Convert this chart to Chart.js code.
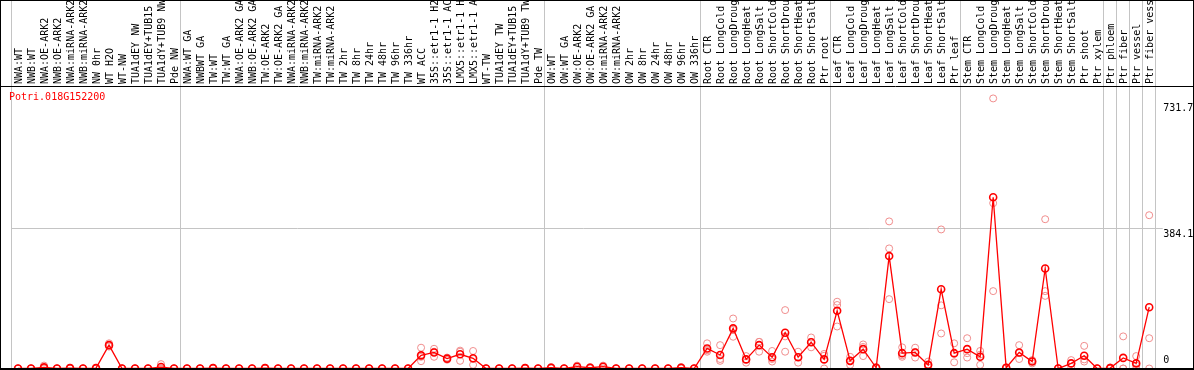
<!DOCTYPE html>
<html>
<head>
<meta charset="utf-8">
<script src="https://cdn.jsdelivr.net/npm/chart.js@4.4.1/dist/chart.umd.min.js"></script>
<style>
html,body{margin:0;padding:0;background:#fff;}
#wrap{position:relative;width:1194px;height:370px;}
canvas{display:block;}
</style>
</head>
<body>
<div id="wrap"><canvas id="c" width="1194" height="370"></canvas></div>
<script>
// ---- data ----
const geneName = 'Potri.018G152200';
const groupSizes = [13, 28, 12, 10, 10, 11, 1, 1, 1, 1];
const categories = [
  'NWA:WT','NWB:WT','NWA:OE-ARK2','NWB:OE-ARK2','NWA:miRNA-ARK2','NWB:miRNA-ARK2','NW 0hr','WT H2O','WT-NW','TUA1dEY NW','TUA1dEY+TUB15','TUA1dY+TUB9 NW','Pde NW',
  'NWA:WT GA','NWBWT GA','TW:WT','TW:WT GA','NWA:OE-ARK2 GA','NWB:OE-ARK2 GA','TW:OE-ARK2','TW:OE-ARK2 GA','NWA:miRNA-ARK2','NWB:miRNA-ARK2','TW:miRNA-ARK2','TW:miRNA-ARK2','TW 2hr','TW 8hr','TW 24hr','TW 48hr','TW 96hr','TW 336hr','WT ACC','35S::etr1-1 H2','35S::etr1-1 AC','LMX5::etr1-1 H','LMX5::etr1-1 A','WT-TW','TUA1dEY TW','TUA1dEY+TUB15','TUA1dY+TUB9 TW','Pde TW',
  'OW:WT','OW:WT GA','OW:OE-ARK2','OW:OE-ARK2 GA','OW:miRNA-ARK2','OW:miRNA-ARK2','OW 2hr','OW 8hr','OW 24hr','OW 48hr','OW 96hr','OW 336hr',
  'Root CTR','Root LongCold','Root LongDroug','Root LongHeat','Root LongSalt','Root ShortCold','Root ShortDrou','Root ShortHeat','Root ShortSalt','Ptr root',
  'Leaf CTR','Leaf LongCold','Leaf LongDroug','Leaf LongHeat','Leaf LongSalt','Leaf ShortCold','Leaf ShortDrou','Leaf ShortHeat','Leaf ShortSalt','Ptr leaf',
  'Stem CTR','Stem LongCold','Stem LongDroug','Stem LongHeat','Stem LongSalt','Stem ShortCold','Stem ShortDrou','Stem ShortHeat','Stem ShortSalt','Ptr shoot','Ptr xylem',
  'Ptr phloem','Ptr fiber','Ptr vessel','Ptr fiber vess'
];
const meanValues = [
  0,0,3,0,1,0,1,64,0,0,0,4,0,
  0,0,1,0,0,0,1,0,0,0,0,0,0,0,0,0,0,0,36,44,27,39,28,0,0,0,1,0,
  2,0,5,2,5,0,0,0,0,0,2,0,
  55,37,110,25,64,31,98,31,72,25,
  158,21,53,2,308,42,44,10,217,42,
  53,32,469,2,44,19,274,0,14,35,0,
  1,29,14,168
];
const rep1 = [
  0,0,8,0,2,0,2,69,0,0,0,12,0,
  0,0,2,0,0,0,2,0,0,0,0,0,0,0,0,0,0,0,57,54,30,49,48,0,0,0,2,0,
  4,0,8,4,8,0,0,0,0,0,4,0,
  69,64,137,34,73,48,160,46,85,40,
  183,32,66,4,403,58,57,19,381,69,
  83,48,740,3,64,23,409,1,23,62,0,
  3,88,34,420
];
const rep2 = [
  0,0,1,0,1,0,1,64,0,0,0,0,0,
  0,0,1,0,0,0,1,0,0,0,0,0,0,0,0,0,0,0,32,46,27,46,26,0,0,0,1,0,
  2,0,5,2,5,0,0,0,0,0,2,0,
  50,26,106,25,73,26,88,31,73,35,
  174,21,59,2,329,36,45,8,173,40,
  42,38,453,2,42,20,212,0,14,25,0,
  0,0,8,83
];
const rep3 = [
  0,0,0,0,0,0,0,60,0,0,0,0,0,
  0,0,0,0,0,0,0,0,0,0,0,0,0,0,0,0,0,0,20,32,24,21,10,0,0,0,0,0,
  0,0,0,0,0,0,0,0,0,0,0,0,
  46,21,87,16,46,19,46,16,58,0,
  115,10,34,0,190,32,30,3,96,17,
  30,10,212,0,26,14,199,0,5,19,0,
  0,0,0,0
];
const yTickValues = [0, 384.1, 731.7];
const yMax = 774;

// ---- derived ----
const boundaries = new Set();
{ let s = 0; for (const g of groupSizes) { boundaries.add(s); s += g; } }

const MONO = "'DejaVu Sans Mono', 'Liberation Mono', monospace";
const GRID = '#c4c4c4';
const RED = '#ff0000';
const PINK = 'rgb(240,140,140)';

function repSet(data) {
  return {
    type: 'line', data, showLine: false, order: 1,
    pointRadius: 3.5, pointHoverRadius: 3.5, pointBorderWidth: 1,
    pointBorderColor: PINK, pointBackgroundColor: 'rgba(0,0,0,0)',
    borderColor: PINK, clip: false
  };
}

const framePlugin = {
  id: 'frame',
  afterDraw(chart) {
    const ctx = chart.ctx;
    const W = chart.width, H = chart.height;
    const ys = chart.scales.y;
    const ca = chart.chartArea;
    const y0 = ys.getPixelForValue(0);
    ctx.save();
    ctx.strokeStyle = '#000';
    ctx.lineWidth = 1;
    ctx.beginPath();
    ctx.moveTo(0.5, 0); ctx.lineTo(0.5, H);
    ctx.moveTo(W - 0.5, 0); ctx.lineTo(W - 0.5, H);
    ctx.moveTo(0, 0.5); ctx.lineTo(W, 0.5);
    ctx.moveTo(0, Math.round(ca.top) + 0.5); ctx.lineTo(W, Math.round(ca.top) + 0.5);
    ctx.stroke();
    ctx.lineWidth = 2;
    ctx.beginPath();
    ctx.moveTo(0, y0 + 0.5); ctx.lineTo(W, y0 + 0.5);
    ctx.stroke();
    // y tick labels
    ctx.fillStyle = '#000';
    ctx.font = '10px ' + MONO;
    ctx.textAlign = 'left';
    for (const v of yTickValues) {
      const py = ys.getPixelForValue(v);
      if (v === 0) { ctx.textBaseline = 'bottom'; ctx.fillText(String(v), ca.right + 7.5, py - 3); }
      else { ctx.textBaseline = 'top'; ctx.fillText(String(v), ca.right + 7.5, py + 1.5); }
    }
    // gene name
    ctx.fillStyle = RED;
    ctx.textBaseline = 'top';
    ctx.fillText(geneName, 9, ca.top + 6.5);
    ctx.restore();
  }
};

new Chart(document.getElementById('c'), {
  type: 'line',
  data: {
    labels: categories,
    datasets: [
      {
        label: 'mean', data: meanValues, order: 0,
        borderColor: RED, borderWidth: 1.3, tension: 0,
        pointRadius: 3.5, pointHoverRadius: 3.5, pointBorderWidth: 1.6,
        pointBorderColor: RED, pointBackgroundColor: 'rgba(0,0,0,0)',
        clip: false
      },
      repSet(rep1), repSet(rep2), repSet(rep3)
    ]
  },
  options: {
    responsive: false,
    animation: false,
    devicePixelRatio: 1,
    layout: { autoPadding: false, padding: { left: 11.5, right: 0, top: 0, bottom: 1.5 } },
    plugins: { legend: { display: false }, tooltip: { enabled: false }, title: { display: false } },
    scales: {
      x: {
        type: 'category',
        position: 'top',
        offset: true,
        border: { display: false },
        grid: {
          offset: true,
          drawOnChartArea: true,
          drawTicks: true,
          tickLength: 86,
          lineWidth: 1,
          color: (c) => (c.index === undefined || boundaries.has(c.index)) ? GRID : 'rgba(0,0,0,0)'
        },
        ticks: {
          autoSkip: false, maxRotation: 90, minRotation: 90,
          padding: -84,
          labelOffset: 13,
          color: '#000',
          font: { family: MONO, size: 10 }
        },
        afterFit: (s) => { s.height = 86; }
      },
      y: {
        position: 'right',
        min: 0, max: yMax,
        border: { display: false },
        afterBuildTicks: (s) => { s.ticks = yTickValues.map(v => ({ value: v })); },
        grid: {
          drawTicks: true, tickLength: 7,
          color: (c) => (c.tick && c.tick.value === 384.1) ? GRID : 'rgba(0,0,0,0)'
        },
        ticks: { display: false },
        afterFit: (s) => { s.width = 38.3; }
      }
    }
  },
  plugins: [framePlugin]
});
</script>
</body>
</html>
